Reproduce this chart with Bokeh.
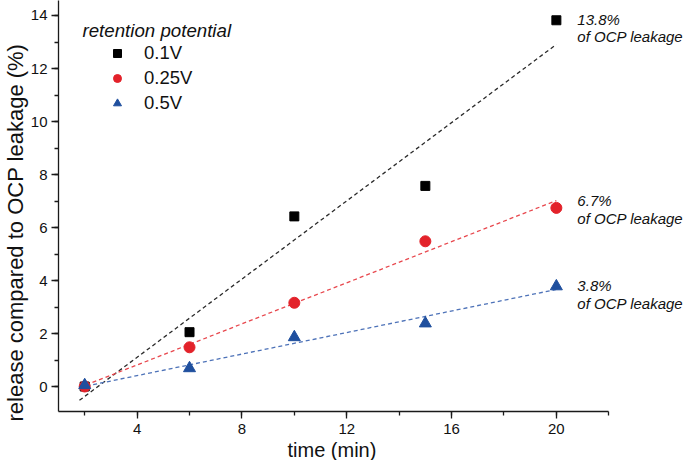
import numpy as np
from bokeh.plotting import figure
from bokeh.models import Range1d, SingleIntervalTicker, Legend, LegendItem, Title
from bokeh.core.properties import value
from bokeh.embed import file_html
from bokeh.resources import INLINE

# ---- data ----
time_min = [2, 6, 10, 15, 20]
release_01V = [0.0, 2.05, 6.42, 7.57, 13.82]
release_025V = [0.0, 1.48, 3.16, 5.48, 6.74]
release_05V = [0.05, 0.69, 1.86, 2.38, 3.78]
series_names = ["0.1V", "0.25V", "0.5V"]
leak_labels = ["13.8%", "6.7%", "3.8%"]
leak_suffix = "of OCP leakage"
legend_title = "retention potential"
x_label = "time (min)"
y_label = "release compared to OCP leakage (%)"

# ---- styles ----
FONT = "Liberation Sans"
marker_kinds = ["square", "circle", "triangle"]
marker_sizes = [9, 11, 12]
marker_colors = ["#000000", "#e3222a", "#1f4f9e"]
line_colors = ["#2b2b2b", "#e8484e", "#4d72b8"]
pct_offsets = [-1, -7, -1]
suffix_offsets = [16, 11, 17]
AXIS_COLOR = "#1a1a1a"
TEXT_COLOR = "#111111"
X_BOUNDS = (1, 22)

p = figure(width=684, height=460,
           x_range=Range1d(1, 24.89), y_range=Range1d(-0.943, 14.566),
           output_backend="svg", toolbar_location=None,
           min_border_left=58, min_border_right=0,
           min_border_top=0, min_border_bottom=49)
p.outline_line_color = None
p.xgrid.visible = False
p.ygrid.visible = False
p.background_fill_color = "white"
p.border_fill_color = "white"

p.xaxis.bounds = X_BOUNDS
p.xaxis.ticker = SingleIntervalTicker(interval=4, num_minor_ticks=2)
p.yaxis.ticker = SingleIntervalTicker(interval=2, num_minor_ticks=2)
for ax in (p.xaxis[0], p.yaxis[0]):
    ax.axis_line_color = AXIS_COLOR
    ax.axis_line_width = 1.3
    ax.major_tick_line_color = AXIS_COLOR
    ax.major_tick_line_width = 1.3
    ax.minor_tick_line_color = AXIS_COLOR
    ax.minor_tick_line_width = 1.3
    ax.major_tick_in = 0
    ax.major_tick_out = 7
    ax.minor_tick_in = 0
    ax.minor_tick_out = 4
    ax.major_label_text_font = FONT
    ax.major_label_text_font_size = "15px"
    ax.major_label_text_color = TEXT_COLOR
p.xaxis.major_label_standoff = 5
p.yaxis.major_label_standoff = 4

# axis titles as side-panel titles (positioned like the reference)
p.add_layout(Title(text=x_label, align="left", offset=229, standoff=0,
                   text_font=FONT, text_font_size="20px", text_font_style="normal",
                   text_color=TEXT_COLOR), "below")
p.add_layout(Title(text=y_label, align="left", offset=-10, standoff=0,
                   text_font=FONT, text_font_size="22px", text_font_style="normal",
                   text_color=TEXT_COLOR), "left")

series = [release_01V, release_025V, release_05V]

# linear fits (dashed)
fit_x = np.array([time_min[0] - 0.2, time_min[-1]])
for ys, lc in zip(series, line_colors):
    k, b = np.polyfit(time_min, ys, 1)
    p.line(fit_x, k * fit_x + b, line_color=lc, line_width=1.3, line_dash="4 3")

items = []
for ys, name, mk, ms, mc in zip(series, series_names, marker_kinds, marker_sizes, marker_colors):
    r = p.scatter(time_min, ys, marker=mk, size=ms, fill_color=mc, line_color=mc)
    items.append(LegendItem(label=name, renderers=[r]))

legend = Legend(items=items, location=(49, 297), padding=0, spacing=3,
                glyph_width=20, glyph_height=20, label_standoff=17,
                label_height=20,
                label_text_font=FONT, label_text_font_size="18.5px",
                label_text_color=TEXT_COLOR,
                border_line_color=None, background_fill_alpha=0, margin=0)
p.add_layout(legend)

# legend title
p.text(x=[p.x_range.start], y=[p.y_range.end], text=[legend_title],
       x_offset=24, y_offset=30, text_baseline="alphabetic",
       text_font=value(FONT), text_font_style="italic",
       text_font_size="18.7px", text_color=TEXT_COLOR)

# end annotations
last_x = [time_min[-1]] * 3
last_y = [s[-1] for s in series]
p.text(x=last_x, y=last_y, text=leak_labels, x_offset=21, y_offset=pct_offsets,
       text_baseline="alphabetic", text_font=value(FONT), text_font_style="italic",
       text_font_size="15px", text_color=TEXT_COLOR)
p.text(x=last_x, y=last_y, text=[leak_suffix] * 3, x_offset=21, y_offset=suffix_offsets,
       text_baseline="alphabetic", text_font=value(FONT), text_font_style="italic",
       text_font_size="15px", text_color=TEXT_COLOR)

open("out.html", "w").write(file_html(p, INLINE))
